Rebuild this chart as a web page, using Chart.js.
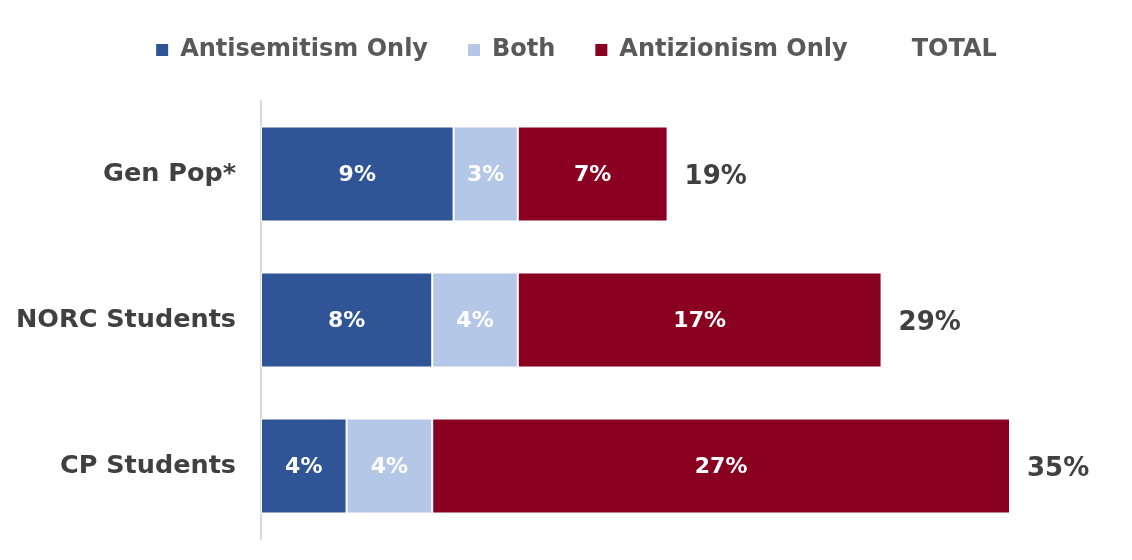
<!DOCTYPE html>
<html>
<head>
<meta charset="utf-8">
<script src="https://cdn.jsdelivr.net/npm/chart.js@4"></script>
<style>
  html, body { margin: 0; padding: 0; background: #fff; }
  #wrap { width: 1132px; height: 560px; }
</style>
</head>
<body>
<div id="wrap"><canvas id="myChart" width="1132" height="560"></canvas></div>
<script>
const categories = ['Gen Pop*', 'NORC Students', 'CP Students']
const antisemitismOnly = [9, 8, 4]
const both = [3, 4, 4]
const antizionismOnly = [7, 17, 27]
const totals = [19, 29, 35]
const totalLabel = 'TOTAL'

const FONT = "'DejaVu Sans', sans-serif"

// white % labels inside each segment + the grey total after each bar
const barLabels = {
    id: 'barLabels',
    afterDatasetsDraw(chart) {
        const ctx = chart.ctx
        ctx.save()
        ctx.textAlign = 'center'
        ctx.textBaseline = 'middle'
        ctx.font = "700 22px " + FONT
        ctx.fillStyle = '#ffffff'
        chart.data.datasets.forEach((ds, i) => {
            chart.getDatasetMeta(i).data.forEach((bar, j) => {
                const mid = (bar.x + bar.base) / 2
                ctx.fillText(ds.data[j] + '%', mid, bar.y + 1)
            })
        })
        const last = chart.getDatasetMeta(chart.data.datasets.length - 1)
        ctx.textAlign = 'left'
        ctx.font = "700 26px " + FONT
        ctx.fillStyle = '#404040'
        last.data.forEach((bar, j) => {
            ctx.fillText(totals[j] + '%', bar.x + 17, bar.y + 3)
        })
        ctx.restore()
    }
}

// legend block height so the plot starts where it should, nudged a bit right
const legendHeight = {
    id: 'legendHeight',
    beforeInit(chart) {
        const fit = chart.legend.fit
        chart.legend.fit = function () {
            fit.bind(chart.legend)()
            this.height = 103
        }
    },
    afterUpdate(chart) {
        chart.legend.left += 18
        chart.legend.right += 18
    }
}

const ctx = document.getElementById('myChart').getContext('2d')

new Chart(ctx, {
    type: 'bar',
    data: {
        labels: categories,
        datasets: [
            { label: 'Antisemitism Only', data: antisemitismOnly, backgroundColor: '#2F5597' },
            { label: 'Both', data: both, backgroundColor: '#B4C7E7' },
            { label: 'Antizionism Only', data: antizionismOnly, backgroundColor: '#8A0021' },
        ]
    },
    options: {
        indexAxis: 'y',
        responsive: false,
        animation: false,
        layout: { padding: { top: -2, right: 15, left: 0, bottom: 21 } },
        datasets: {
            bar: {
                borderColor: '#ffffff',
                borderWidth: 1,
                borderSkipped: false,
                categoryPercentage: 0.65,
                barPercentage: 1
            }
        },
        plugins: {
            tooltip: { enabled: false },
            legend: {
                display: true,
                position: 'top',
                labels: {
                    color: '#595959',
                    font: { family: FONT, size: 24, weight: '700' },
                    boxWidth: 12,
                    boxHeight: 12,
                    padding: 40,
                    generateLabels(chart) {
                        const items = chart.data.datasets.map((ds, i) => ({
                            text: ds.label,
                            fillStyle: ds.backgroundColor,
                            strokeStyle: ds.backgroundColor,
                            lineWidth: 0,
                            fontColor: '#595959',
                            datasetIndex: i
                        }))
                        items.push({
                            text: totalLabel,
                            fillStyle: 'rgba(0,0,0,0)',
                            strokeStyle: 'rgba(0,0,0,0)',
                            lineWidth: 0,
                            fontColor: '#595959'
                        })
                        return items
                    }
                }
            }
        },
        scales: {
            x: {
                stacked: true,
                min: 0,
                max: 40,
                display: false,
                grid: { display: false }
            },
            y: {
                stacked: true,
                grid: { display: false, drawTicks: false },
                border: { display: true, color: '#d9d9d9', width: 2 },
                ticks: {
                    color: '#404040',
                    padding: 25,
                    font: { family: FONT, size: 25.5, weight: '700' }
                },
                afterFit(scale) {
                    scale.width = 261
                    scale.paddingTop = 0
                    scale.paddingBottom = 0
                }
            }
        }
    },
    plugins: [barLabels, legendHeight]
})
</script>
</body>
</html>
